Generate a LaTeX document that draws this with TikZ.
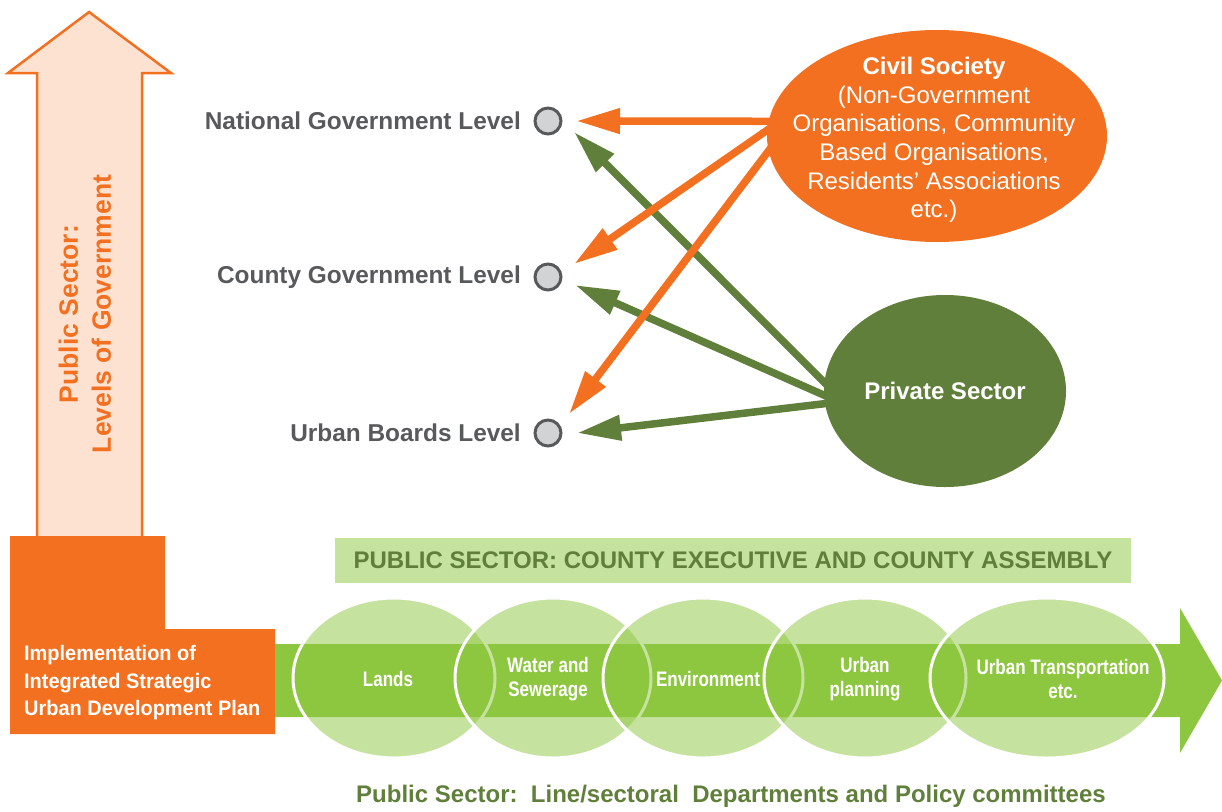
\documentclass[tikz,border=0pt]{standalone}
\usepackage{fontspec}
\setmainfont{Liberation Sans}
\newfontfamily\impfont[FakeStretch=0.95]{Liberation Sans}
\newfontfamily\bandfont[FakeStretch=0.81]{Liberation Sans}
\usetikzlibrary{arrows.meta,shapes.geometric}
\definecolor{orng}{HTML}{F37021}
\definecolor{peach}{HTML}{FDE2D2}
\definecolor{lime}{HTML}{8DC63F}
\definecolor{palelime}{HTML}{C5E29F}
\definecolor{olive}{HTML}{607F3B}
\definecolor{slate}{HTML}{58595B}
\definecolor{dotgray}{HTML}{D1D3D4}
\pgfdeclarelayer{links}
\pgfsetlayers{links,main}

\begin{document}
\begin{tikzpicture}[x=1pt,y=-1pt,
  lvl/.style={anchor=east,inner sep=0pt,text=slate,font=\bfseries\fontsize{24.4}{28}\selectfont},
  lvldot/.style={circle,draw=slate,line width=3pt,fill=dotgray,minimum size=26pt,inner sep=0pt},
  sector/.style={ellipse,fill=lime,fill opacity=0.5,draw=white,line width=3pt,inner sep=0pt,outer sep=0pt,minimum height=160pt},
  sectortxt/.style={text=white,align=center,inner sep=0pt,font=\bandfont\bfseries\fontsize{21}{23.5}\selectfont},
  actor/.style={ellipse,inner sep=0pt,outer sep=0pt},
  link/.style={line width=7.5pt,-{Triangle[length=44pt,width=24pt]},shorten <=-14pt},
]
\useasboundingbox (0,0) rectangle (1222,811);

% vertical arrow: levels of government
\draw[draw=orng,fill=peach,line width=2.5pt]
  (37,537) -- (37,73) -- (8,73) -- (89,12) -- (171,73) -- (142,73) -- (142,537);
\node[rotate=90,align=center,text=orng,font=\bfseries\fontsize{26.5}{33}\selectfont] (levels) at (85,314)
  {Public Sector:\\Levels of Government};

% implementation block
\fill[orng] (10,536) -- (165,536) -- (165,629) -- (275,629) -- (275,734) -- (10,734) -- cycle;
\node[anchor=west,align=left,inner sep=0pt,text=white,font=\impfont\bfseries\fontsize{21}{27.5}\selectfont] (impl) at (24,683)
  {Implementation of\\Integrated Strategic\\Urban Development Plan};

% sectoral band
\fill[lime] (275,644) -- (1180,644) -- (1180,608) -- (1222,680.5) -- (1180,753) -- (1180,717) -- (275,717) -- cycle;
\node[sector,minimum width=202pt] (lands) at (394,678) {};
\node[sector,minimum width=196pt] (water) at (553,678) {};
\node[sector,minimum width=200pt] (env) at (703,678) {};
\node[sector,minimum width=202pt] (plan) at (865,678) {};
\node[sector,minimum width=234pt] (trans) at (1047,678) {};
\node[sectortxt] (lands-t) at (388,679) {Lands};
\node[sectortxt] (water-t) at (548,679) {Water and\\Sewerage};
\node[sectortxt] (env-t) at (708,679) {Environment};
\node[sectortxt] (plan-t) at (865,679) {Urban\\planning};
\node[sectortxt] (trans-t) at (1063,679) {Urban Transportation\\etc.};

% county executive banner and caption
\node[fill=palelime,minimum width=796pt,minimum height=45pt,inner sep=0pt,text=olive,
  font=\bfseries\fontsize{24}{28}\selectfont] (exec) at (733,560.5)
  {PUBLIC SECTOR: COUNTY EXECUTIVE AND COUNTY ASSEMBLY};
\node[text=olive,inner sep=0pt,font=\bfseries\fontsize{24}{28}\selectfont] (depts) at (731,796)
  {Public Sector:\ \ Line/sectoral\ \ Departments and Policy committees};

% levels of government
\node[lvldot] (nat) at (548,121) {};
\node[lvldot] (cty) at (548,277) {};
\node[lvldot] (urb) at (548,433) {};
\node[lvl] (nat-l) at (521,121) {National Government Level};
\node[lvl] (cty-l) at (521,277) {County Government Level};
\node[lvl] (urb-l) at (521,433) {Urban Boards Level};

% non-state actors
\node[actor,fill=orng,minimum width=340pt,minimum height=212pt] (cs) at (937,136) {};
\node[align=center,text=white,inner sep=0pt,font=\fontsize{24}{28.6}\selectfont] (cs-t) at (934,140)
  {\textbf{Civil Society}\\(Non-Government\\Organisations, Community\\Based Organisations,\\Residents’ Associations\\etc.)};
\node[actor,fill=olive,minimum width=242pt,minimum height=192pt,text=white,
  font=\bfseries\fontsize{24}{28}\selectfont] (ps) at (945,391) {Private Sector};

% links towards the levels
\begin{pgfonlayer}{links}
\draw[link,olive] (ps.176) -- ([xshift=26pt,yshift=-11pt]nat.center);
\draw[link,olive] (ps.182) -- ([xshift=27pt,yshift=-8pt]cty.center);
\draw[link,olive] (ps.186) -- ([xshift=29pt]urb.center);
\draw[link,orng] (cs.175) -- ([xshift=28pt]nat.center);
\draw[link,orng] (cs.178) -- ([xshift=26pt,yshift=13pt]cty.center);
\draw[link,orng] (cs.185) -- ([xshift=21pt,yshift=19pt]urb.center);
\end{pgfonlayer}
\end{tikzpicture}
\end{document}
